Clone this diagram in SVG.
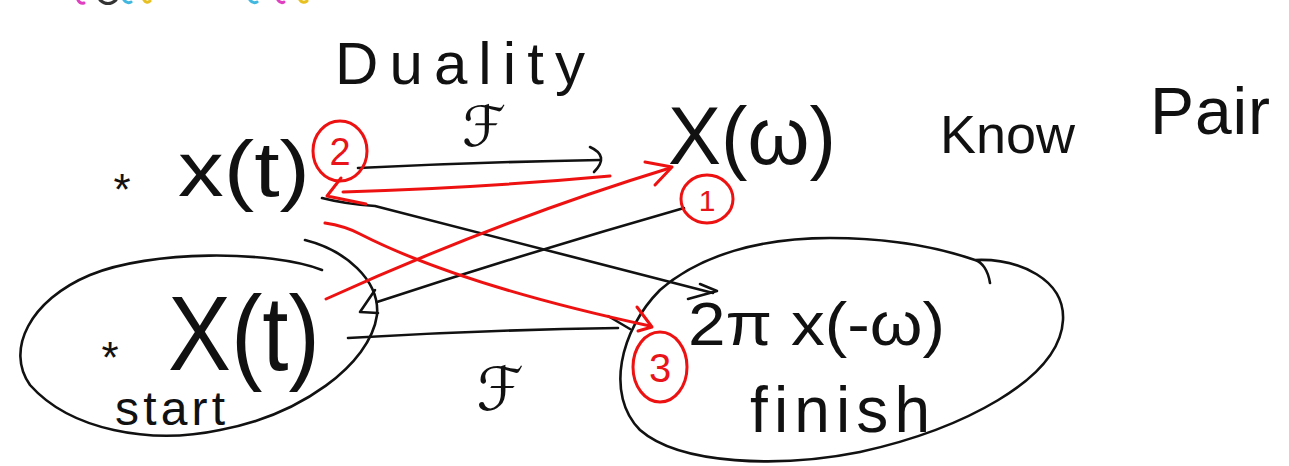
<svg xmlns="http://www.w3.org/2000/svg" width="1289" height="466" viewBox="0 0 1289 466">
<style>
.t{font-family:"Liberation Sans","DejaVu Sans",sans-serif;fill:#111}
.m{font-family:"DejaVu Sans","Noto Sans",sans-serif;fill:#111}
.r{font-family:"Liberation Sans","DejaVu Sans",sans-serif;fill:#e8141a}
.k{fill:none;stroke:#111;stroke-width:2.6;stroke-linecap:round;stroke-linejoin:round}
.rd{fill:none;stroke:#ee1111;stroke-width:3;stroke-linecap:round;stroke-linejoin:round}
</style>
<rect width="1289" height="466" fill="#fff"/>
<g id="toolbar-fragment" stroke-width="3" fill="none" stroke-linecap="round">
<path d="M78,0 Q80,4 84,3" stroke="#e040c0"/>
<path d="M100,0 Q108,7 116,0" stroke="#333"/>
<path d="M124,0 Q127,4 131,2" stroke="#40b8e0"/>
<path d="M144,0 Q147,4 150,1" stroke="#e8c020"/>
<path d="M250,0 Q253,4 257,2" stroke="#40b8e0"/>
<path d="M278,0 Q281,4 284,2" stroke="#e040c0"/>
<path d="M300,0 Q303,4 307,1" stroke="#e8c020"/>
</g>
<g id="title">
<text class="t" x="335" y="84" font-size="60" textLength="250" lengthAdjust="spacing">Duality</text>
</g>
<g id="know-pair">
<text class="t" x="940" y="153" font-size="54">Know</text>
<text class="t" x="1150" y="134" font-size="66" textLength="120" lengthAdjust="spacing">Pair</text>
</g>
<g id="node-xt">
<text class="t" x="122" y="205" font-size="44" text-anchor="middle">*</text>
<text class="t" x="178" y="196" font-size="78" textLength="132" lengthAdjust="spacingAndGlyphs">x(t)</text>
</g>
<g id="node-Xw">
<text class="t" x="668" y="164" font-size="82" textLength="168" lengthAdjust="spacingAndGlyphs">X(ω)</text>
</g>
<g id="node-Xt">
<path class="k" d="M322,270 C270,250 150,250 90,275 C30,300 5,350 30,385 C70,430 150,445 220,430 C300,415 370,365 377,315 C380,280 345,250 305,240"/>
<text class="t" x="110" y="373" font-size="44" text-anchor="middle">*</text>
<text class="t" x="168" y="370" font-size="106" textLength="152" lengthAdjust="spacingAndGlyphs">X(t)</text>
<text class="t" x="115" y="425" font-size="48" textLength="110" lengthAdjust="spacing">start</text>
</g>
<g id="node-2pix">
<path class="k" d="M990,283 C988,270 982,262 975,260 C1020,258 1065,280 1063,320 C1060,380 960,430 860,452 C780,468 680,465 640,430 C605,395 620,330 660,290 C700,255 760,238 830,238 C890,238 940,248 975,260"/>
<text class="t" x="688" y="345" font-size="62" textLength="257" lengthAdjust="spacingAndGlyphs">2π x(-ω)</text>
<text class="t" x="750" y="432" font-size="64" textLength="180" lengthAdjust="spacing">finish</text>
</g>
<g id="fourier-labels">
<text class="m" x="484" y="146" font-size="56" text-anchor="middle">ℱ</text>
<text class="m" x="500" y="410" font-size="60" text-anchor="middle">ℱ</text>
</g>
<g id="connectors">
<path class="k" d="M358,168 Q480,162 600,160"/>
<path class="k" d="M590,147 Q610,156 594,172"/>
<path class="k" d="M322,198 Q345,204 375,206 L713,293"/>
<path class="k" d="M700,284 L717,291 L688,299"/>
<path class="k" d="M684,208 Q530,252 377,302"/>
<path class="k" d="M375,290 L360,312 L378,313"/>
<path class="k" d="M348,338 Q480,330 618,328"/>
<path class="k" d="M608,316 L630,329"/>
<path class="rd" d="M326,299 Q500,220 670,168"/>
<path class="rd" d="M645,162 L672,167 L655,185"/>
<path class="rd" d="M610,176 Q480,188 343,192"/>
<path class="rd" d="M341,178 L327,196 L366,204"/>
<path class="rd" d="M325,223 Q345,226 360,234 Q460,285 650,326"/>
<path class="rd" d="M637,307 L652,327 L638,331"/>
</g>
<g id="marker-2">
<ellipse class="rd" cx="340" cy="151" rx="27" ry="30"/>
<text class="r" x="340" y="165" font-size="38" text-anchor="middle">2</text>
</g>
<g id="marker-1">
<ellipse class="rd" cx="707" cy="199" rx="26" ry="24"/>
<text class="r" x="707" y="211" font-size="30" text-anchor="middle">1</text>
</g>
<g id="marker-3">
<ellipse class="rd" cx="660" cy="367" rx="27" ry="35"/>
<text class="r" x="660" y="382" font-size="40" text-anchor="middle">3</text>
</g>
</svg>
